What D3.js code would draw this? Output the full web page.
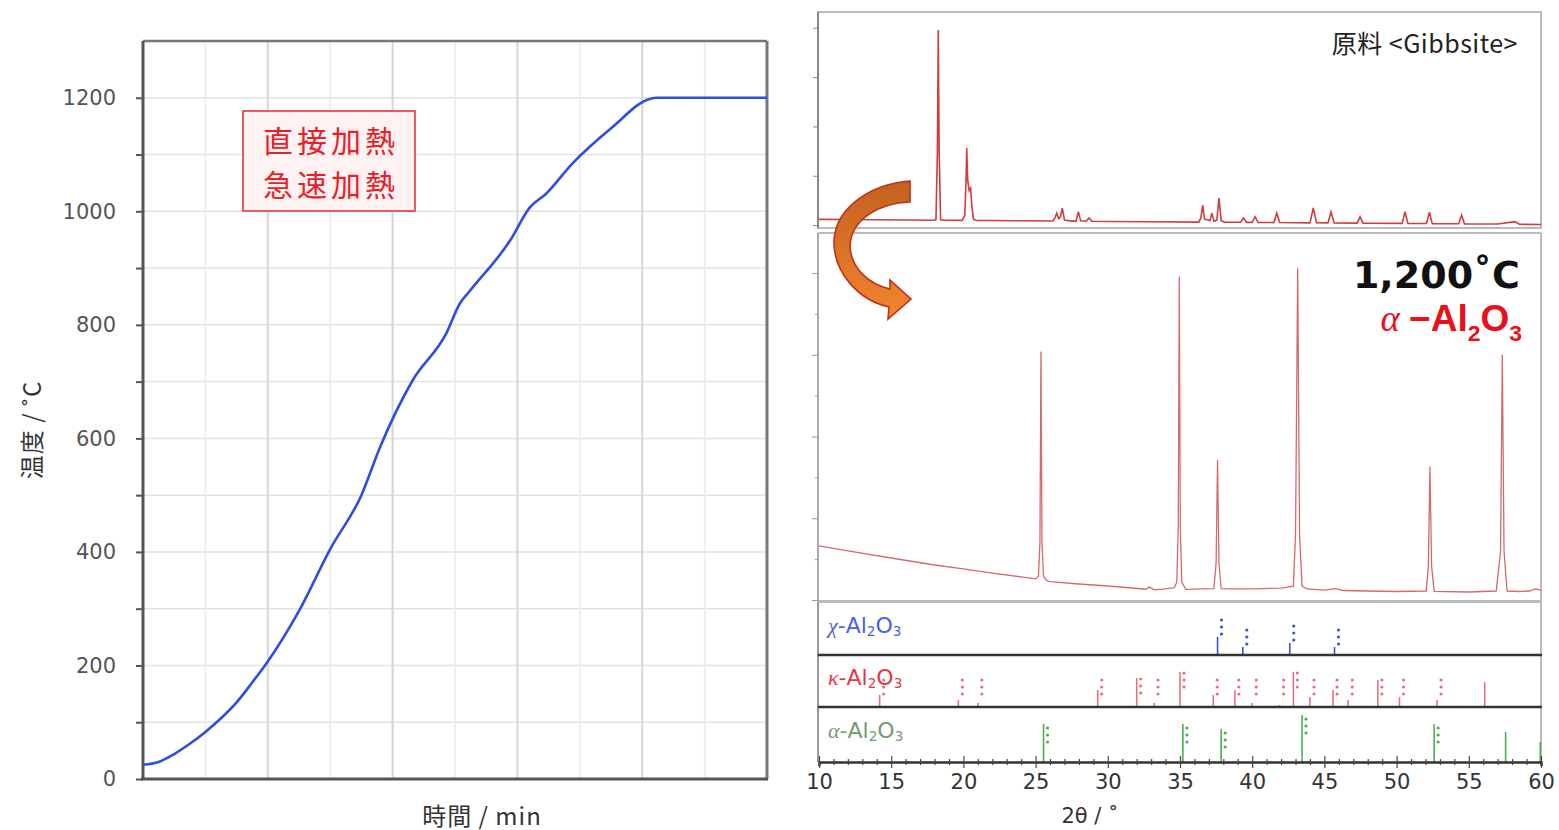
<!DOCTYPE html>
<html>

<head>
    <meta charset="UTF-8">
    <title>加熱曲線とXRD</title>
    <style>
        body { margin: 0; background: #fff; }
        svg { display: block; font-family: "DejaVu Sans", "Noto Sans CJK JP", sans-serif; }
    </style>
</head>

<body>

    <svg id="chart"></svg>

    <script src="https://cdn.jsdelivr.net/npm/d3@7"></script>
    <script>
        const width = 1559;
        const height = 830;

        // 加熱曲線 (時間 / min, 温度 / ˚C)
        const timeMin = [0, 1.25, 2.5, 3.75, 5, 6.25, 7.5, 8.75, 10, 12.5, 15, 17.5, 19, 21.6, 24.3, 25.4, 26.2, 29.4, 31, 32.3, 34.4, 37.6, 40.6, 41.2, 50];
        const tempC = [25, 30, 44, 62, 83, 107, 135, 170, 207, 296, 405, 500, 585, 702, 785, 838, 860, 948, 1007, 1031, 1084, 1148, 1198, 1200, 1200];
        const tempTicks = [0, 200, 400, 600, 800, 1000, 1200];

        // XRD 原料 <Gibbsite>
        const gibbTheta = [10, 12, 14, 16, 17.9, 18.1, 18.2, 18.26, 18.32, 18.42, 18.6,
            19.9, 20.1, 20.18, 20.23, 20.3, 20.4, 20.5, 20.58, 20.7, 20.9,
            22, 24, 26.2, 26.35, 26.46, 26.6, 26.72, 26.85, 27.0, 27.5, 27.8, 27.96, 28.12, 28.5, 28.7, 28.9,
            30, 33, 36.3, 36.45, 36.57, 36.7, 36.94, 37.08, 37.2, 37.35, 37.55, 37.7, 37.85, 38.1,
            39.2, 39.4, 39.6, 40.0, 40.2, 40.4, 41.5, 41.7, 41.9,
            44.0, 44.23, 44.45, 45.25, 45.46, 45.67, 47.27, 47.47, 47.67,
            50.38, 50.58, 50.78, 52.07, 52.27, 52.47, 54.3, 54.5, 54.7, 57, 58.2, 58.5, 60];
        const gibbCount = [115, 111, 107, 102, 98, 110, 1500, 3955, 1500, 110, 97,
            95, 200, 900, 1562, 900, 700, 750, 400, 120, 93,
            91, 87, 82, 150, 243, 130, 160, 345, 100, 80, 80, 270, 85, 78, 142, 77,
            73, 67, 60, 150, 406, 120, 101, 90, 243, 80, 100, 548, 90, 58,
            56, 142, 55, 54, 168, 53, 50, 243, 50,
            45, 345, 45, 43, 270, 42, 39, 168, 38,
            33, 270, 32, 30, 258, 29, 25, 203, 24, 20, 68, 15, 10];

        // XRD 1,200˚C
        const hotTheta = [10, 12, 15, 18, 20, 22, 24, 25.0, 25.2, 25.3, 25.37, 25.44, 25.55, 25.75,
            26, 28, 30, 31.7, 32.6, 32.9, 33.2, 34, 34.6, 34.78, 34.88, 34.95, 35.02, 35.12, 35.4,
            36.5, 37.35, 37.5, 37.6, 37.7, 37.85, 38.5, 40, 42, 42.85, 43.0, 43.15, 43.28, 43.45, 43.8,
            45, 45.8, 46.3, 48, 50, 52.05, 52.2, 52.31, 52.42, 52.6,
            55, 56.9, 57.2, 57.32, 57.44, 57.65, 58.5, 59.2, 59.6, 60];
        const hotCount = [661, 600, 514, 428, 380, 330, 282, 258, 290, 700, 3040, 700, 290, 240,
            225, 196, 171, 147, 132, 158, 125, 135, 150, 220, 900, 3957, 900, 220, 130,
            135, 140, 450, 1714, 450, 140, 135, 135, 145, 170, 800, 4060, 800, 170, 135,
            122, 140, 116, 110, 104, 110, 420, 1632, 420, 105,
            98, 110, 600, 2999, 600, 110, 104, 110, 135, 122];

        // 参照ピーク (相対強度)
        const chiPos = [37.6, 39.35, 42.6, 45.7];
        const chiInt = [36, 16, 24, 16];
        const kappaPos = [14.2, 19.65, 21.0, 29.3, 32.0, 33.2, 35.0, 37.3, 38.8, 40.0, 41.9, 42.85, 44.0, 45.6, 46.65, 48.7, 50.2, 52.8, 56.1];
        const kappaInt = [24, 14, 8, 34, 58, 8, 70, 24, 34, 8, 4, 70, 20, 34, 14, 54, 20, 14, 50];
        const kappaMarks = [3, 3, 3, 3, 3, 3, 3, 3, 3, 3, 3, 3, 3, 3, 3, 3, 3, 3, 0];
        const alphaPos = [25.55, 35.2, 37.85, 43.45, 52.6, 57.55, 59.95];
        const alphaInt = [76, 76, 66, 94, 76, 60, 40];
        const alphaMarks = [3, 3, 3, 3, 3, 0, 0];

        const thetaTicks = [10, 15, 20, 25, 30, 35, 40, 45, 50, 55, 60];

        const svg = d3.select('#chart')
            .attr('width', width)
            .attr('height', height);

        // ---------------- 左: 加熱曲線 ----------------
        const left = { x0: 143, x1: 767, y0: 41, y1: 779 };
        const xT = d3.scaleLinear().domain([0, 50]).range([left.x0, left.x1]);
        const yT = d3.scaleLinear().domain([0, 1300]).range([left.y1, left.y0]);

        const lg = svg.append('g').attr('class', 'heat');

        // グリッド
        lg.append('g').selectAll('line')
            .data(d3.range(100, 1300, 100))
            .enter().append('line')
            .attr('x1', left.x0).attr('x2', left.x1)
            .attr('y1', d => yT(d)).attr('y2', d => yT(d))
            .style('stroke', '#e2e2e2').style('stroke-width', 1.5);
        lg.append('g').selectAll('line')
            .data(d3.range(5, 50, 5))
            .enter().append('line')
            .attr('x1', d => xT(d)).attr('x2', d => xT(d))
            .attr('y1', left.y0).attr('y2', left.y1)
            .style('stroke', d => d % 10 === 0 ? '#d6d6d6' : '#ebebeb')
            .style('stroke-width', d => d % 10 === 0 ? 2 : 1.5);

        // 枠
        lg.append('line')
            .attr('x1', left.x0).attr('x2', left.x1).attr('y1', left.y0).attr('y2', left.y0)
            .style('stroke', '#777').style('stroke-width', 2.5);
        lg.append('line')
            .attr('x1', left.x1).attr('x2', left.x1).attr('y1', left.y0).attr('y2', left.y1)
            .style('stroke', '#777').style('stroke-width', 3);

        const yAxis = d3.axisLeft(yT)
            .tickValues(d3.range(0, 1300, 100))
            .tickSize(7)
            .tickPadding(20)
            .tickFormat(d => tempTicks.includes(d) ? d : '');
        lg.append('g')
            .attr('transform', `translate(${left.x0},0)`)
            .call(yAxis)
            .call(g => g.select('.domain').attr('d', `M0,${left.y0}V${left.y1}`).style('stroke', '#555').style('stroke-width', 3))
            .call(g => g.selectAll('.tick line').style('stroke', '#555').style('stroke-width', 2))
            .call(g => g.selectAll('.tick text').style('font-size', '21px').style('fill', '#555')
                .style('font-family', '"DejaVu Sans", sans-serif'));

        lg.append('line')
            .attr('x1', left.x0 - 2).attr('x2', left.x1 + 1).attr('y1', left.y1).attr('y2', left.y1)
            .style('stroke', '#555').style('stroke-width', 3);

        const heatLine = d3.line()
            .x((d, i) => xT(timeMin[i]))
            .y(d => yT(d))
            .curve(d3.curveMonotoneX);
        lg.append('path')
            .datum(tempC)
            .attr('d', heatLine)
            .style('fill', 'none')
            .style('stroke', '#2e4ee0')
            .style('stroke-width', 2.6);

        // 注記ボックス
        lg.append('rect')
            .attr('x', 243).attr('y', 111).attr('width', 172).attr('height', 100)
            .style('fill', '#fff2f2').style('stroke', '#e8343c').style('stroke-width', 1.6);
        lg.append('g').selectAll('text')
            .data(['直接加熱', '急速加熱'])
            .enter().append('text')
            .attr('x', 331).attr('y', (d, i) => 139 + i * 44)
            .attr('text-anchor', 'middle')
            .attr('dominant-baseline', 'central')
            .style('font-family', '"Noto Sans CJK JP", sans-serif')
            .style('font-size', '30px')
            .style('letter-spacing', '4px')
            .style('fill', '#e8202a')
            .text(d => d);

        lg.append('text')
            .attr('transform', 'translate(30,430) rotate(-90)')
            .attr('text-anchor', 'middle')
            .attr('dominant-baseline', 'central')
            .style('font-family', '"Noto Sans CJK JP", sans-serif')
            .style('font-size', '24px').style('fill', '#333')
            .style('letter-spacing', '1px')
            .text('温度 / ˚C');
        lg.append('text')
            .attr('x', 482).attr('y', 814)
            .attr('text-anchor', 'middle')
            .attr('dominant-baseline', 'central')
            .style('font-family', '"Noto Sans CJK JP", sans-serif')
            .style('font-size', '24px').style('fill', '#333')
            .style('letter-spacing', '1px')
            .text('時間 / min');

        // ---------------- 右: XRD ----------------
        const rx0 = 818, rx1 = 1541;
        const x2 = d3.scaleLinear().domain([10, 60]).range([819, 1541]);
        const yTop = d3.scaleLinear().domain([-60, 4320]).range([228, 12]);
        const yMid = d3.scaleLinear().domain([0, 4490]).range([600, 233]);
        const stickH = d3.scaleLinear().domain([0, 100]).range([0, 50]);

        const rg = svg.append('g').attr('class', 'xrd');

        // 上段 枠
        rg.append('rect')
            .attr('x', rx0).attr('y', 12).attr('width', rx1 - rx0).attr('height', 216)
            .style('fill', 'none').style('stroke', '#bbb').style('stroke-width', 2);
        rg.append('g')
            .attr('transform', `translate(${rx0},0)`)
            .call(d3.axisLeft(yTop).tickValues([0, 1000, 2000, 3000, 4000]).tickSize(5).tickFormat(''))
            .call(g => g.select('.domain').attr('d', 'M0,12V228').style('stroke', '#888').style('stroke-width', 2))
            .call(g => g.selectAll('.tick line').style('stroke', '#888'));

        const gibbLine = d3.line()
            .x((d, i) => x2(gibbTheta[i]))
            .y(d => yTop(d));
        rg.append('path')
            .datum(gibbCount)
            .attr('d', gibbLine)
            .style('fill', 'none')
            .style('stroke', '#d23c3c')
            .style('stroke-width', 1.6);

        rg.append('text')
            .attr('x', 1518).attr('y', 42)
            .attr('text-anchor', 'end')
            .attr('dominant-baseline', 'central')
            .style('font-family', '"Noto Sans CJK JP", sans-serif')
            .style('font-size', '25px').style('fill', '#222')
            .style('letter-spacing', '0.5px')
            .text('原料  <Gibbsite>');

        // 中段 枠
        rg.append('line')
            .attr('x1', rx0).attr('x2', rx1).attr('y1', 233).attr('y2', 233)
            .style('stroke', '#bbb').style('stroke-width', 2);
        rg.append('line')
            .attr('x1', rx1).attr('x2', rx1).attr('y1', 233).attr('y2', 762)
            .style('stroke', '#bbb').style('stroke-width', 2);
        rg.append('line')
            .attr('x1', rx0).attr('x2', rx1).attr('y1', 601.5).attr('y2', 601.5)
            .style('stroke', '#bbb').style('stroke-width', 3);
        rg.append('g')
            .attr('transform', `translate(${rx0},0)`)
            .call(d3.axisLeft(yMid).tickValues(d3.range(0, 4490, 500)).tickSize(4).tickFormat(''))
            .call(g => g.select('.domain').attr('d', 'M0,233V762').style('stroke', '#aaa').style('stroke-width', 2))
            .call(g => g.selectAll('.tick line').style('stroke', '#999')
                .attr('x2', d => d % 1000 === 0 ? -6 : -3));

        const hotLine = d3.line()
            .x((d, i) => x2(hotTheta[i]))
            .y(d => yMid(d));
        rg.append('path')
            .datum(hotCount)
            .attr('d', hotLine)
            .style('fill', 'none')
            .style('stroke', '#d46a6e')
            .style('stroke-width', 1.3);

        rg.append('text')
            .attr('x', 1520).attr('y', 288)
            .attr('text-anchor', 'end')
            .style('font-family', '"DejaVu Sans", sans-serif')
            .style('font-weight', 'bold')
            .style('font-size', '38px').style('fill', '#111')
            .text('1,200˚C');

        function formula(t, greek, dash, size) {
            t.append('tspan')
                .style('font-family', '"Liberation Serif", serif')
                .style('font-style', 'italic')
                .style('font-weight', 'normal')
                .text(greek);
            t.append('tspan').text(dash + 'Al');
            t.append('tspan').attr('dy', size * 0.28).style('font-size', (size * 0.62) + 'px').text('2');
            t.append('tspan').attr('dy', -size * 0.28).text('O');
            t.append('tspan').attr('dy', size * 0.28).style('font-size', (size * 0.62) + 'px').text('3');
        }

        const bigF = rg.append('text')
            .attr('x', 1522).attr('y', 331)
            .attr('text-anchor', 'end')
            .style('font-family', '"Liberation Sans", sans-serif')
            .style('font-weight', 'bold')
            .style('font-size', '37px').style('fill', '#e8101a');
        formula(bigF, 'α ', '−', 37);

        // 参照パターン
        const phases = [
            { name: 'χ', pos: chiPos, int: chiInt, marks: chiPos.map(() => 3), base: 655, color: '#3a52d6', text: '#4a62e0', labelY: 625, mode: 'up' },
            { name: 'κ', pos: kappaPos, int: kappaInt, marks: kappaMarks, base: 707, color: '#ea6f80', text: '#e8364a', labelY: 677, mode: 'mid' },
            { name: 'α', pos: alphaPos, int: alphaInt, marks: alphaMarks, base: 762, color: '#4caf50', text: '#6f9e6f', labelY: 730, mode: 'down' }
        ];

        rg.append('line')
            .attr('x1', rx0).attr('x2', rx0).attr('y1', 603).attr('y2', 762)
            .style('stroke', '#999').style('stroke-width', 2);

        phases.forEach(p => {
            const g = rg.append('g');
            const sticks = p.pos.map((d, i) => ({ t: d, h: stickH(p.int[i]), m: p.marks[i] }));
            g.selectAll('line')
                .data(sticks)
                .enter().append('line')
                .attr('x1', d => x2(d.t)).attr('x2', d => x2(d.t))
                .attr('y1', p.base).attr('y2', d => p.base - d.h)
                .style('stroke', p.color).style('stroke-width', 1.6);
            const dots = [];
            sticks.forEach(d => {
                const top = p.base - d.h;
                let start;
                if (p.mode === 'up') start = top - 20;
                else if (p.mode === 'down') start = top + 1;
                else start = Math.min(top - 2, p.base - 30);
                d3.range(d.m).forEach(k => dots.push({ x: x2(d.t) + 4, y: start + 3 + k * 7 }));
            });
            g.selectAll('circle')
                .data(dots)
                .enter().append('circle')
                .attr('cx', d => d.x).attr('cy', d => d.y).attr('r', 1.6)
                .style('fill', p.color);

            const t = g.append('text')
                .attr('x', 828).attr('y', p.labelY)
                .attr('dominant-baseline', 'central')
                .style('font-family', '"DejaVu Sans", sans-serif')
                .style('font-size', '22px').style('fill', p.text);
            formula(t, p.name, '-', 22);
        });

        // 区切り線
        [655, 707].forEach(y => {
            rg.append('line')
                .attr('x1', rx0).attr('x2', rx1 + 1).attr('y1', y).attr('y2', y)
                .style('stroke', '#333').style('stroke-width', 2.5);
        });

        // 2θ 軸
        rg.append('g')
            .attr('transform', 'translate(0,762)')
            .call(d3.axisBottom(x2).tickValues(d3.range(10, 61, 1)).tickSize(4).tickPadding(8)
                .tickFormat(d => thetaTicks.includes(d) ? d : ''))
            .call(g => g.select('.domain').style('stroke', '#333').style('stroke-width', 2.5))
            .call(g => g.selectAll('.tick line').style('stroke', '#444').style('stroke-width', 1.2)
                .attr('y1', d => thetaTicks.includes(d) ? -6 : -3)
                .attr('y2', d => thetaTicks.includes(d) ? 6 : 3))
            .call(g => g.selectAll('.tick text').style('font-size', '21px').style('fill', '#333')
                .style('font-family', '"DejaVu Sans", sans-serif'));

        rg.append('text')
            .attr('x', 1090).attr('y', 816)
            .attr('text-anchor', 'middle')
            .attr('dominant-baseline', 'central')
            .style('font-family', '"DejaVu Sans", sans-serif')
            .style('font-size', '21px').style('fill', '#333')
            .text('2θ / ˚');

        // 矢印
        const defs = svg.append('defs');
        const grad = defs.append('linearGradient')
            .attr('id', 'arrowFill')
            .attr('x1', 0).attr('y1', 0).attr('x2', 0).attr('y2', 1);
        grad.append('stop').attr('offset', '0%').attr('stop-color', '#c2611f');
        grad.append('stop').attr('offset', '100%').attr('stop-color', '#f3852e');

        rg.append('path')
            .attr('d', 'M910,181 C870,184 836,208 834,240 C833,272 858,300 889,307 L888,319 L911,299 L890,280 L890,289 C868,284 851,268 850,246 C851,220 878,203 910,202 Z')
            .style('fill', 'url(#arrowFill)')
            .style('stroke', '#c0311b')
            .style('stroke-width', 1.6);
    </script>
</body>

</html>
